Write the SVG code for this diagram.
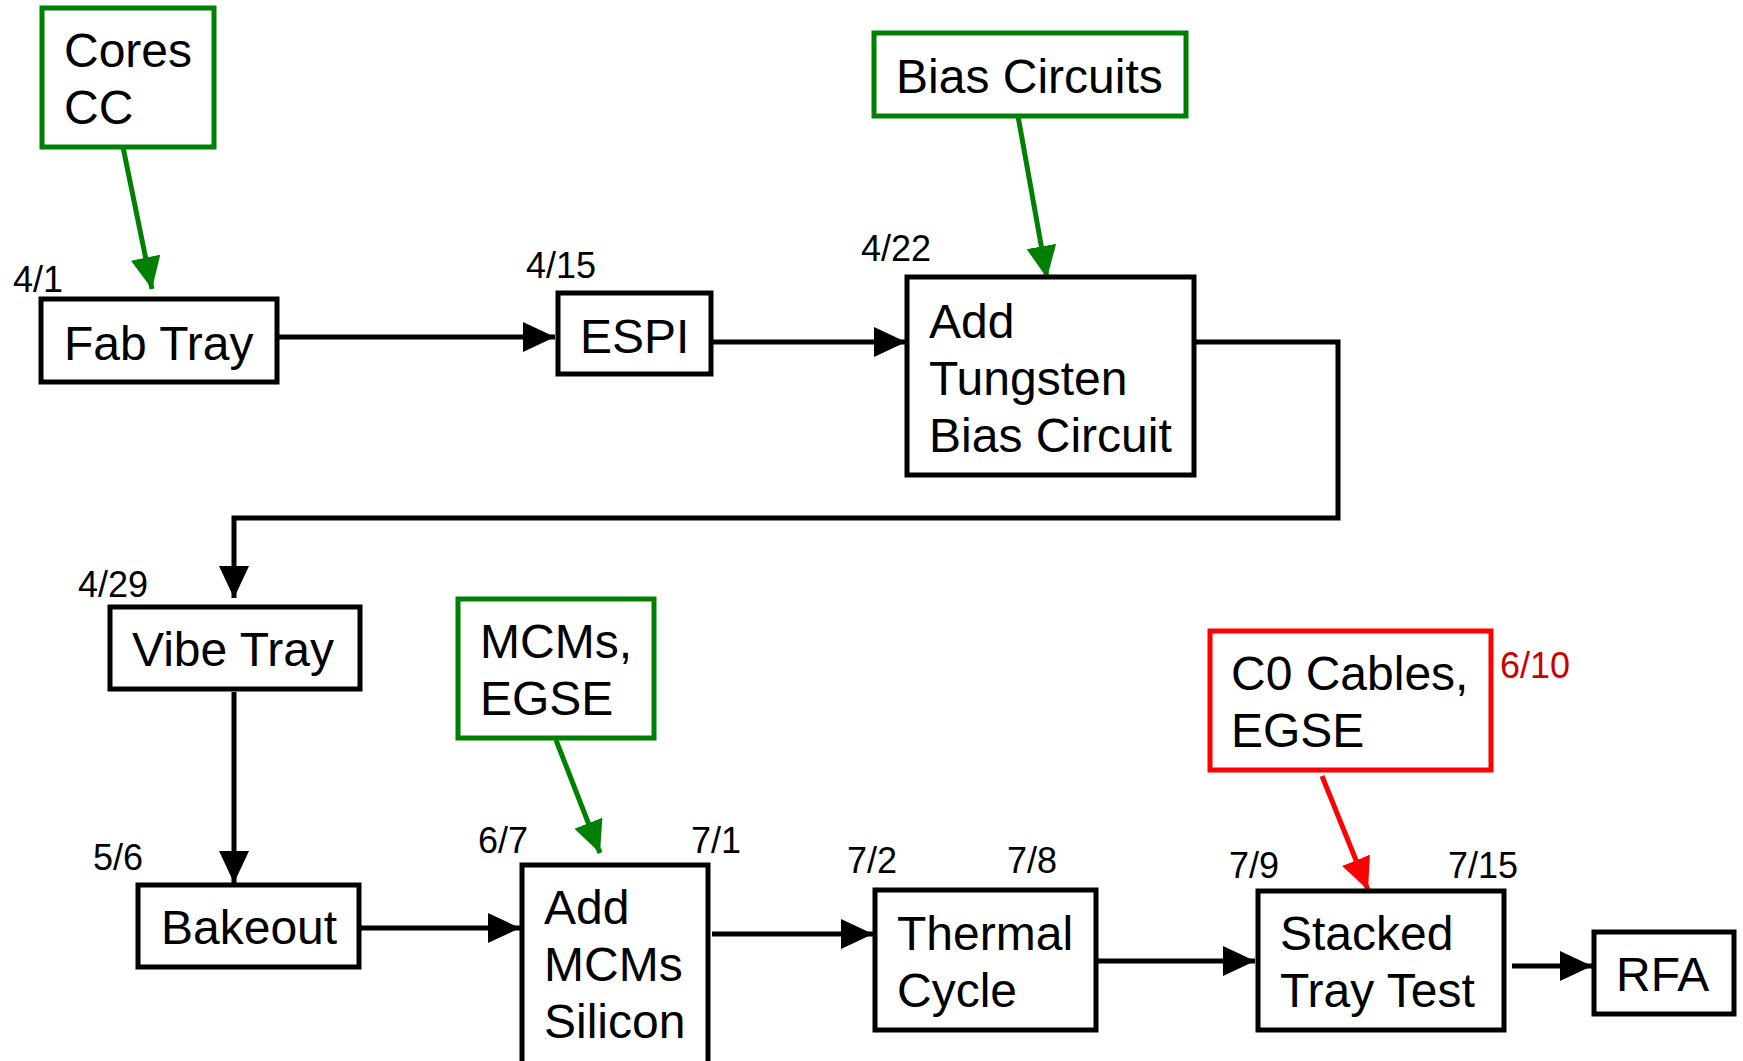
<svg xmlns="http://www.w3.org/2000/svg" width="1743" height="1061" viewBox="0 0 1743 1061">
<style>
.box{fill:#fff;stroke:#000;stroke-width:5}
.gbox{fill:#fff;stroke:#008000;stroke-width:5}
.rbox{fill:#fff;stroke:#ff0000;stroke-width:5}
.t{font-family:"Liberation Sans",Arial,sans-serif;font-size:48px;fill:#000}
.d{font-family:"Liberation Sans",Arial,sans-serif;font-size:36px;fill:#000}
.dr{font-family:"Liberation Sans",Arial,sans-serif;font-size:36px;fill:#cc0000}
.c{fill:none;stroke:#000;stroke-width:5}
.cg{fill:none;stroke:#008000;stroke-width:5}
.cr{fill:none;stroke:#ff0000;stroke-width:5}
</style>
<defs>
<marker id="ab" markerUnits="userSpaceOnUse" markerWidth="32" markerHeight="30" refX="32" refY="15" orient="auto"><path d="M0,0 L32,15 L0,30 z" fill="#000"/></marker>
<marker id="ag" markerUnits="userSpaceOnUse" markerWidth="32" markerHeight="30" refX="32" refY="15" orient="auto"><path d="M0,0 L32,15 L0,30 z" fill="#008000"/></marker>
<marker id="ar" markerUnits="userSpaceOnUse" markerWidth="32" markerHeight="30" refX="32" refY="15" orient="auto"><path d="M0,0 L32,15 L0,30 z" fill="#ff0000"/></marker>
</defs>
<rect width="1743" height="1061" fill="#fff"/>
<g id="connectors">
<line class="cg" x1="123" y1="147" x2="152" y2="289" marker-end="url(#ag)"/>
<line class="c" x1="279" y1="337" x2="555" y2="337" marker-end="url(#ab)"/>
<line class="c" x1="713" y1="342" x2="906" y2="342" marker-end="url(#ab)"/>
<line class="cg" x1="1018" y1="116" x2="1047" y2="278" marker-end="url(#ag)"/>
<polyline class="c" points="1194,342 1338,342 1338,518 234,518 234,598" marker-end="url(#ab)"/>
<line class="c" x1="234" y1="692" x2="234" y2="883" marker-end="url(#ab)"/>
<line class="c" x1="361" y1="928" x2="520" y2="928" marker-end="url(#ab)"/>
<line class="cg" x1="556" y1="740" x2="600" y2="853" marker-end="url(#ag)"/>
<line class="c" x1="712" y1="934" x2="873" y2="934" marker-end="url(#ab)"/>
<line class="c" x1="1098" y1="961" x2="1255" y2="961" marker-end="url(#ab)"/>
<line class="cr" x1="1322" y1="776" x2="1368" y2="890" marker-end="url(#ar)"/>
<line class="c" x1="1512" y1="966" x2="1592" y2="966" marker-end="url(#ab)"/>
</g>
<g id="cores">
<rect class="gbox" x="42" y="8" width="172" height="139"/>
<text class="t" x="64" y="67">Cores</text>
<text class="t" x="64" y="124">CC</text>
</g>
<g id="fabtray">
<rect class="box" x="41" y="299" width="236" height="83"/>
<text class="t" x="64" y="360">Fab Tray</text>
<text class="d" x="13" y="292">4/1</text>
</g>
<g id="espi">
<rect class="box" x="558" y="293" width="153" height="81"/>
<text class="t" x="580" y="353">ESPI</text>
<text class="d" x="526" y="278">4/15</text>
</g>
<g id="biascircuits">
<rect class="gbox" x="874" y="33" width="312" height="83"/>
<text class="t" x="896" y="93">Bias Circuits</text>
</g>
<g id="addtungsten">
<rect class="box" x="907" y="277" width="287" height="198"/>
<text class="t" x="929" y="338">Add</text>
<text class="t" x="929" y="395">Tungsten</text>
<text class="t" x="929" y="452">Bias Circuit</text>
<text class="d" x="861" y="261">4/22</text>
</g>
<g id="vibetray">
<rect class="box" x="110" y="607" width="250" height="82"/>
<text class="t" x="132" y="666">Vibe Tray</text>
<text class="d" x="78" y="597">4/29</text>
</g>
<g id="bakeout">
<rect class="box" x="138" y="885" width="221" height="82"/>
<text class="t" x="161" y="944">Bakeout</text>
<text class="d" x="93" y="870">5/6</text>
</g>
<g id="mcmsegse">
<rect class="gbox" x="458" y="599" width="196" height="139"/>
<text class="t" x="480" y="658">MCMs,</text>
<text class="t" x="480" y="715">EGSE</text>
</g>
<g id="addmcms">
<rect class="box" x="522" y="865" width="186" height="200"/>
<text class="t" x="544" y="924">Add</text>
<text class="t" x="544" y="981">MCMs</text>
<text class="t" x="544" y="1038">Silicon</text>
<text class="d" x="478" y="853">6/7</text>
<text class="d" x="691" y="853">7/1</text>
</g>
<g id="thermal">
<rect class="box" x="875" y="890" width="221" height="140"/>
<text class="t" x="897" y="950">Thermal</text>
<text class="t" x="897" y="1007">Cycle</text>
<text class="d" x="847" y="873">7/2</text>
<text class="d" x="1007" y="873">7/8</text>
</g>
<g id="c0cables">
<rect class="rbox" x="1210" y="631" width="281" height="139"/>
<text class="t" x="1231" y="690">C0 Cables,</text>
<text class="t" x="1231" y="747">EGSE</text>
<text class="dr" x="1500" y="678">6/10</text>
</g>
<g id="stacked">
<rect class="box" x="1258" y="891" width="246" height="139"/>
<text class="t" x="1280" y="950">Stacked</text>
<text class="t" x="1280" y="1007">Tray Test</text>
<text class="d" x="1229" y="878">7/9</text>
<text class="d" x="1448" y="878">7/15</text>
</g>
<g id="rfa">
<rect class="box" x="1594" y="932" width="140" height="82"/>
<text class="t" x="1616" y="991">RFA</text>
</g>
</svg>
